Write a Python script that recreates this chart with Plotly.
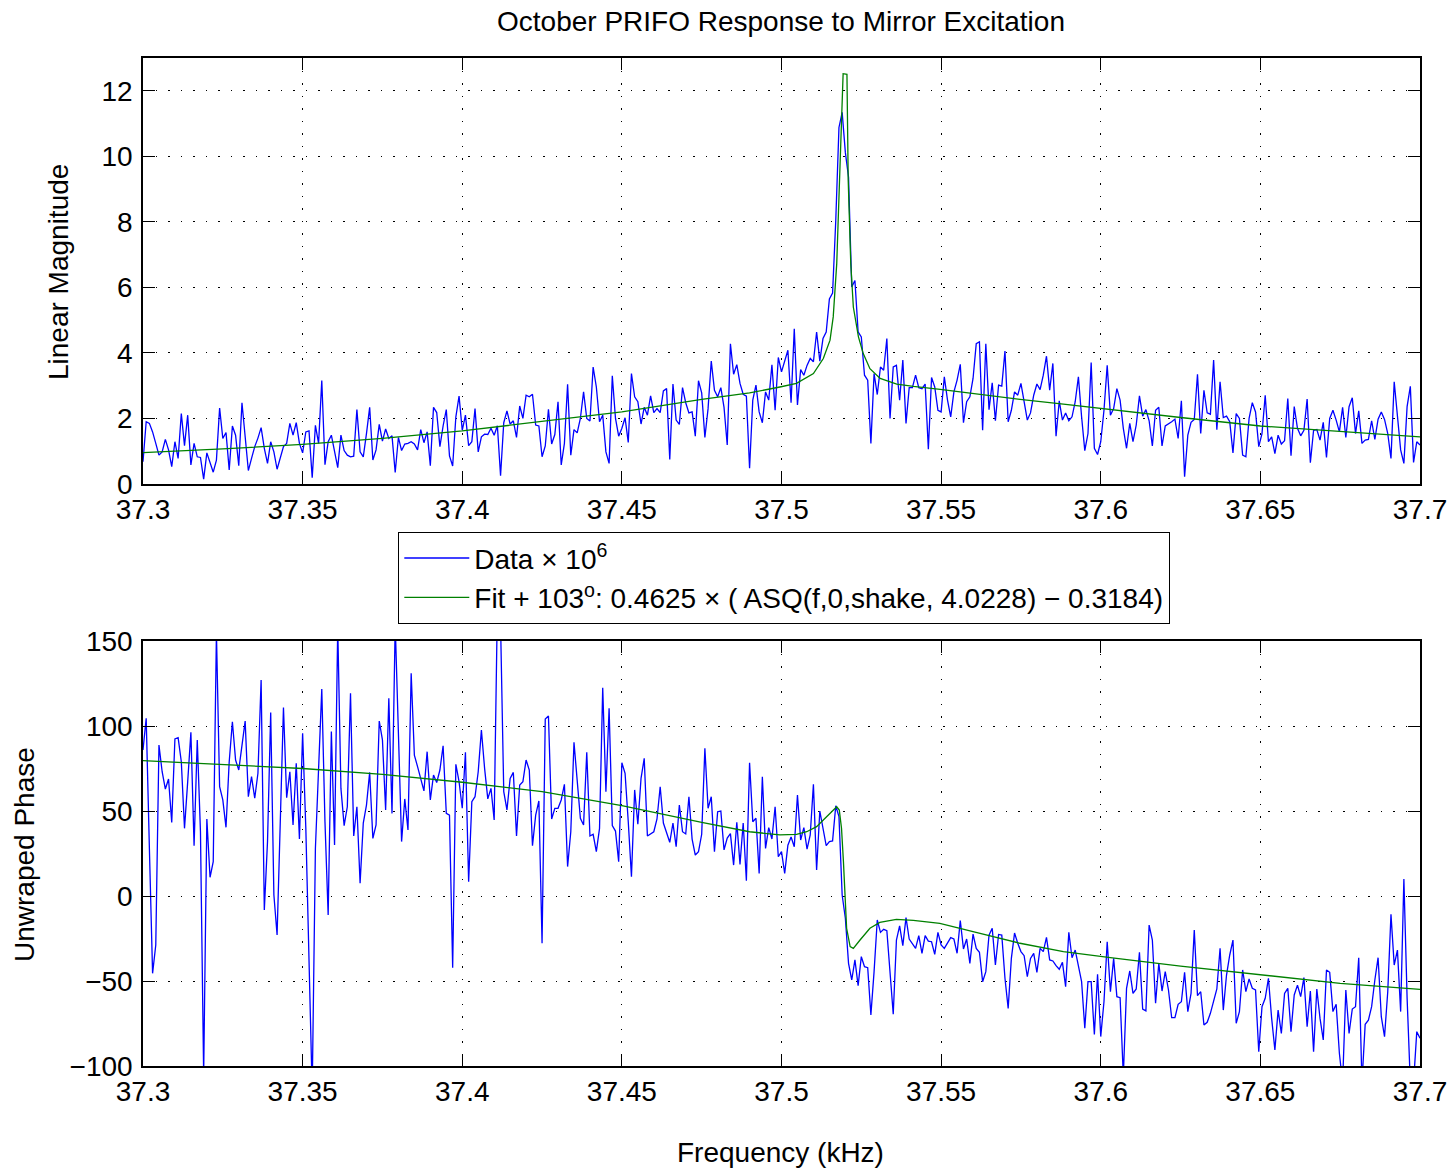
import numpy as np
import plotly.graph_objects as go

# ---------------- data ----------------
quarter_starts = [37.3, 37.4, 37.5, 37.6]
quarter_width = 0.1

mag_q1 = [0.68,1.90,1.85,1.59,1.24,0.88,0.98,1.36,1.04,0.53,1.29,0.78,2.15,1.17,2.10,0.58,1.24,0.83,0.81,0.15,
          0.95,0.63,0.36,0.73,2.32,1.39,1.57,0.43,1.77,1.49,0.56,2.48,1.34,0.41,0.78,1.14,1.40,1.72,1.09,0.63,
          1.29,0.98,0.45,0.83,1.14,1.24,1.85,1.49,1.87,1.24,0.95,1.59,1.62,0.19,1.79,1.24,3.16,0.59,1.29,1.49,
          0.98,0.50,1.49,1.02,0.88,0.83,0.85,2.27,0.98,0.83,1.54,2.34,0.73,1.04,1.82,1.31,1.68,1.39,1.47,0.35,
          1.42,1.02,1.22,1.24,1.29,1.22,1.04,1.66,1.26,1.59,0.56,2.34,2.18,1.14,1.77,2.27,0.86,0.55,2.05,2.68]
mag_q2 = [1.64,2.10,1.17,1.29,2.30,0.98,1.44,1.52,1.51,1.70,1.49,1.78,0.25,1.87,2.23,1.83,1.93,1.42,2.38,2.00,
          2.71,2.66,2.74,1.80,1.77,0.83,1.16,2.28,1.22,1.51,2.51,0.58,1.24,3.04,0.88,1.66,1.56,2.00,2.81,2.00,
          1.92,3.57,2.96,1.90,2.10,0.98,0.63,3.30,2.00,1.46,1.70,2.02,1.27,3.37,2.66,2.51,1.83,2.34,2.10,2.69,
          2.18,2.30,2.18,2.84,2.91,0.75,3.05,1.95,1.82,2.94,2.48,2.17,2.20,1.46,3.15,2.78,1.42,2.30,3.75,2.86,
          2.66,2.94,2.34,1.19,4.28,3.35,3.64,3.07,2.74,2.68,0.48,2.56,3.02,2.20,1.87,2.81,2.56,3.64,2.25,3.86]
mag_q3 = [3.42,3.78,4.08,2.48,4.74,2.41,3.49,3.32,3.62,3.83,3.73,4.64,3.75,4.44,4.64,5.65,5.83,8.04,10.88,11.34,
          10.12,9.36,6.01,6.21,4.64,4.49,3.32,3.17,1.24,3.37,2.73,3.57,3.47,4.44,2.00,3.57,3.62,2.56,3.78,1.85,
          2.94,2.94,3.32,2.94,2.91,3.05,1.06,3.25,2.96,2.25,2.20,3.27,2.56,2.05,2.81,3.17,3.65,1.87,2.51,2.66,
          3.22,4.28,4.34,1.64,4.28,2.27,3.09,1.93,3.02,2.99,4.06,1.90,2.25,2.81,2.71,3.07,2.51,1.95,2.17,2.71,
          3.05,2.88,3.32,3.90,2.86,3.68,1.46,2.54,1.95,2.17,1.93,2.05,2.51,3.27,2.05,1.02,1.54,3.71,1.09,0.90]
mag_q4 = [1.29,2.25,3.62,2.10,2.30,2.91,2.56,1.70,1.09,1.85,1.29,1.80,2.69,2.07,2.27,1.93,1.16,2.25,2.34,1.16,
          1.77,1.83,1.90,1.98,1.39,2.54,0.22,1.49,1.88,1.97,3.35,1.54,2.86,2.17,2.13,3.78,1.66,3.12,2.03,2.07,
          1.90,0.95,2.15,2.00,0.88,0.83,2.00,2.48,2.20,1.14,1.54,2.71,1.29,1.44,0.93,1.49,1.22,1.32,2.61,0.86,
          2.36,1.70,1.47,1.64,2.59,0.65,1.64,1.66,1.34,1.88,0.81,2.00,2.25,1.95,1.59,2.34,1.42,2.36,2.63,1.54,
          2.23,1.24,1.34,1.36,1.93,1.36,1.98,2.20,1.97,1.54,0.78,3.12,2.00,1.04,0.63,2.36,2.98,0.66,1.29,1.19]

phase_q1 = [85.9,104.5,28,-45.5,-28.8,88.8,73.1,62.9,68.8,43.3,92.4,93.1,79,39.8,67.3,96.3,29.6,91.8,37.8,-105,
            45.3,11,20.2,155,64.3,56.5,40.4,79,102.5,80,74.1,88.8,102.9,58.4,70.2,57.5,72.2,127.1,-8.2,32,
            108,0.6,-22.9,43.7,110.8,57.8,73.1,41.8,78,33.5,95.7,40,-40,-115,28,75.1,121.8,43.7,-11.2,96.7,
            30,158,63.3,41.4,52.5,119.2,35.3,52.5,7.5,42.9,53.5,72.7,33.9,41.8,102.9,91.8,50.6,116.3,48.6,160,
            88.8,32,57.1,38.8,131,82.9,76.1,68.2,61.8,84.9,56.5,71.2,66.7,74.1,88.4,48.6,47.6,-42.2,77.5,67.3]
phase_q2 = [51.6,84.5,8.4,55.5,58.4,73.1,97.6,75.1,57.1,63.3,44.7,170,160,61.4,50.6,69.2,72.7,35.3,65.3,67.3,
            80,74.1,29.6,47.6,55.9,-27.8,104.1,105.9,45.3,51.6,51.6,56.5,65.7,17.3,37.8,90.4,65.7,45.7,41.8,84.5,
            35.3,36.3,26.1,39.8,122.5,61.4,110.4,41.4,38.2,20.2,78.4,72.2,43.7,11.4,62.4,42.2,69.2,81,35.3,36.7,
            37.8,45.3,64.3,42.9,37.8,31.6,42.9,29,53.5,37.8,36.5,58.4,33.5,24.1,26.1,36.3,86.9,51.6,58.4,26.1,
            49.6,50,27.1,34.1,36.7,18.2,43.3,18.6,42.9,9,78.4,43.7,45.7,13.3,70.2,28,40.2,33.5,52.5,23.1]
phase_q3 = [26.1,13.3,29.9,34.7,29,59.4,32.9,40.2,27.6,35.9,65.7,15.3,50,38.8,29.6,32,32.4,53.1,46.7,0.6,
            -13.1,-39.6,-49.4,-37.6,-52.7,-35.7,-41.6,-42.2,-70,-44.5,-14.1,-21.4,-19.6,-20.4,-44.5,-69.6,-25.9,-17.6,-29.2,-12.7,
            -25.3,-27.8,-30.8,-23.3,-33.7,-23.3,-26.5,-26.9,-34.3,-21.4,-28.8,-30.8,-27.3,-24.5,-25.3,-33.7,-14.5,-31.2,-25.3,-39.6,
            -22.4,-30.8,-33.1,-50.4,-44.5,-23,-19,-40.6,-22.6,-23,-48.4,-66.1,-36.7,-21.8,-27.8,-32.7,-35.1,-47.5,-36.7,-33.7,
            -44.9,-30.8,-32.7,-24.3,-37.6,-38.2,-41,-43.1,-39,-53.3,-21.4,-36.3,-31.8,-41.6,-50.4,-77.8,-50.4,-50.4,-81.4,-46.1]
phase_q4 = [-82.7,-62.2,-26.9,-56.3,-36.7,-59.2,-59.8,-106,-54.3,-44.1,-57.3,-54.7,-33.1,-66.5,-67.6,-17.1,-25.9,-63.1,-39.6,-55.9,
            -44.5,-55.3,-71.6,-71.6,-63.7,-62.2,-44.9,-68,-57.3,-20,-58.6,-56.3,-75.9,-74.3,-69,-61.8,-54.7,-30.8,-67.1,-46.5,
            -34.7,-25.9,-74.9,-68,-43.5,-56.3,-48.8,-54.3,-55.3,-91.6,-65.1,-60.2,-48.4,-72,-90.6,-67.1,-80.8,-57.3,-54.3,-79.8,
            -58.2,-52.4,-59.2,-48,-76.9,-55.9,-91.6,-54.7,-72,-84.7,-43.5,-44.9,-68,-63.7,-92.5,-110,-55.3,-80.8,-66.5,-65.1,
            -36.3,-110,-75.5,-73,-65.1,-49.4,-36.3,-71,-82.7,-56.3,-10.8,-40.6,-31.8,-68,10,-60,-110,-110,-79.8,-83.7]

fit_mag_freq = [37.300,37.325,37.350,37.375,37.400,37.425,37.450,37.475,37.490,37.4995,37.5047,37.5100,37.5131,
                37.5152,37.5162,37.5173,37.5181,37.5188,37.5193,37.5205,37.5209,37.5217,37.5225,37.5241,37.5256,
                37.5277,37.5309,37.5361,37.5413,37.5497,37.5622,37.5747,37.5883,37.6029,37.625,37.650,37.675,37.700]
fit_mag = [0.96,1.07,1.21,1.39,1.62,1.90,2.20,2.58,2.78,2.96,3.07,3.37,3.83,4.39,5.10,6.72,9.26,11.5,12.52,12.5,
           9.26,6.72,5.40,4.49,3.98,3.52,3.22,3.05,2.98,2.89,2.73,2.58,2.44,2.27,2.03,1.77,1.60,1.44]

fit_phase_freq = [37.300,37.325,37.350,37.375,37.400,37.425,37.450,37.475,37.490,37.4995,37.5047,37.5079,37.5110,
                  37.5131,37.5152,37.5173,37.5181,37.5188,37.5194,37.5199,37.5204,37.5215,37.5225,37.5246,37.5277,
                  37.5308,37.5360,37.5413,37.5496,37.5622,37.5747,37.5883,37.6030,37.625,37.650,37.675,37.700]
fit_phase = [79.6,77.5,75.0,71.6,66.9,61.4,53.1,43.3,37.8,35.9,36.3,37.8,40.8,44.7,48.6,52.5,50.6,39.8,20.2,0.6,
             -19.0,-29.8,-30.8,-25.9,-19.0,-15.5,-13.7,-14.3,-16.1,-22.0,-27.8,-32.7,-36.3,-41.2,-46.5,-51.4,-54.9]

x_tickvals = [37.3, 37.35, 37.4, 37.45, 37.5, 37.55, 37.6, 37.65, 37.7]
x_ticktext = ["37.3", "37.35", "37.4", "37.45", "37.5", "37.55", "37.6", "37.65", "37.7"]
mag_tickvals = [0, 2, 4, 6, 8, 10, 12]
phase_tickvals = [-100, -50, 0, 50, 100, 150]
phase_ticktext = ["\u2212100", "\u221250", "0", "50", "100", "150"]

title_text = "October PRIFO Response to Mirror Excitation"
mag_title = "Linear Magnitude"
phase_title = "Unwraped Phase"
freq_title = "Frequency (kHz)"
data_name = "Data \u00d7 10<sup>6</sup>"
fit_name = "Fit + 103<sup>o</sup>: 0.4625 \u00d7 ( ASQ(f,0,shake, 4.0228) \u2212 0.3184)"

# ---------------- build frequency grid per quarter ----------------
def quarter_freqs(values_list):
    out = []
    for i, (start, vals) in enumerate(zip(quarter_starts, values_list)):
        last = (i == len(quarter_starts) - 1)
        out.append(np.linspace(start, start + quarter_width, len(vals), endpoint=last))
    return np.concatenate(out)

mag_data = mag_q1 + mag_q2 + mag_q3 + mag_q4
phase_data = phase_q1 + phase_q2 + phase_q3 + phase_q4
mag_freq = quarter_freqs([mag_q1, mag_q2, mag_q3, mag_q4])
phase_freq = quarter_freqs([phase_q1, phase_q2, phase_q3, phase_q4])

BLUE = "#0000ff"
GREEN = "#008000"
FONT = "Liberation Sans, Arial, Helvetica, sans-serif"
FS = 28
W, H = 1455, 1173

fig = go.Figure()
fig.add_trace(go.Scatter(x=mag_freq, y=mag_data, mode="lines", line=dict(color=BLUE, width=1.3),
                         name=data_name, xaxis="x", yaxis="y"))
fig.add_trace(go.Scatter(x=fit_mag_freq, y=fit_mag, mode="lines", line=dict(color=GREEN, width=1.3),
                         name=fit_name, xaxis="x", yaxis="y"))
fig.add_trace(go.Scatter(x=phase_freq, y=phase_data, mode="lines", line=dict(color=BLUE, width=1.3),
                         showlegend=False, xaxis="x2", yaxis="y2"))
fig.add_trace(go.Scatter(x=fit_phase_freq, y=fit_phase, mode="lines", line=dict(color=GREEN, width=1.3),
                         showlegend=False, xaxis="x2", yaxis="y2"))

xd = [143 / W, 1420 / W]
top_dom = [1 - 484 / H, 1 - 58 / H]
bot_dom = [1 - 1066 / H, 1 - 641 / H]

axis_common = dict(showline=True, linecolor="black", linewidth=1.5, mirror="allticks",
                   ticks="inside", ticklen=12, tickwidth=1.3, tickcolor="black",
                   showgrid=True, gridcolor="black", gridwidth=1, griddash="1.5px,11px",
                   zeroline=False, automargin=False,
                   tickfont=dict(family=FONT, size=FS, color="black"))

fig.update_layout(
    width=W, height=H, margin=dict(l=0, r=0, t=0, b=0, pad=0, autoexpand=False),
    paper_bgcolor="white", plot_bgcolor="white",
    font=dict(family=FONT, size=FS, color="black"),
    xaxis=dict(domain=xd, anchor="y", range=[37.3, 37.7], tickvals=x_tickvals, ticktext=x_ticktext,
               ticklabelstandoff=0, **axis_common),
    yaxis=dict(domain=top_dom, anchor="x", range=[0, 13], tickvals=mag_tickvals,
               ticklabelstandoff=3, **axis_common),
    xaxis2=dict(domain=xd, anchor="y2", range=[37.3, 37.7], tickvals=x_tickvals, ticktext=x_ticktext,
                ticklabelstandoff=0, **axis_common),
    yaxis2=dict(domain=bot_dom, anchor="x2", range=[-100, 150], tickvals=phase_tickvals,
                ticktext=phase_ticktext, ticklabelstandoff=3, **axis_common),
    showlegend=True,
    legend=dict(x=398 / W, y=1 - 532 / H, xanchor="left", yanchor="top",
                bordercolor="black", borderwidth=1.3, bgcolor="white", itemwidth=65,
                font=dict(family=FONT, size=FS, color="black"), tracegroupgap=0),
    annotations=[
        dict(text=title_text, x=781 / W, y=1 - 22 / H, xref="paper", yref="paper",
             xanchor="center", yanchor="middle", showarrow=False, font=dict(family=FONT, size=FS)),
        dict(text=mag_title, x=58 / W, y=1 - 272 / H, xref="paper", yref="paper", textangle=-90,
             xanchor="center", yanchor="middle", showarrow=False, font=dict(family=FONT, size=FS)),
        dict(text=phase_title, x=24 / W, y=1 - 855 / H, xref="paper", yref="paper", textangle=-90,
             xanchor="center", yanchor="middle", showarrow=False, font=dict(family=FONT, size=FS)),
        dict(text=freq_title, x=780 / W, y=1 - 1152 / H, xref="paper", yref="paper",
             xanchor="center", yanchor="middle", showarrow=False, font=dict(family=FONT, size=FS)),
    ],
)

fig.write_html("out.html")
